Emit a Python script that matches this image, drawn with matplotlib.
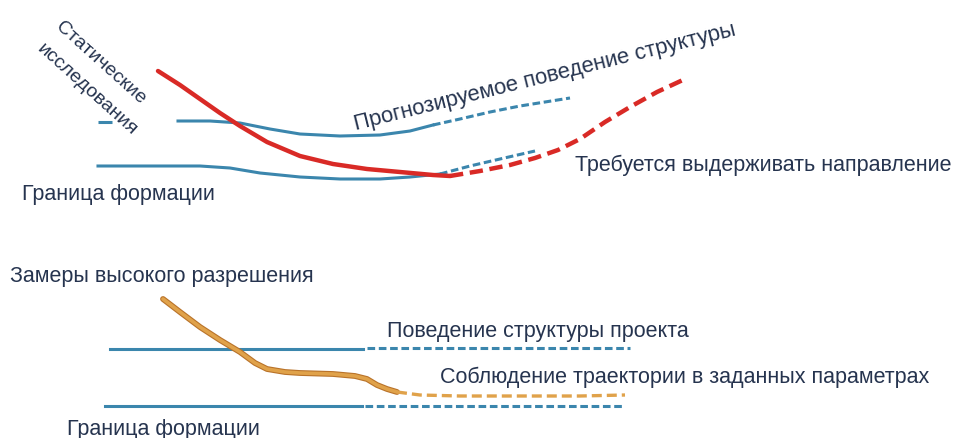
import matplotlib
matplotlib.use('Agg')
import matplotlib.pyplot as plt

plt.rcParams['font.family'] = ['Liberation Sans', 'DejaVu Sans']

# координаты снимаются с картинки (пиксели, y вниз)
# верхняя схема: статические исследования
stub_x = [98, 112]
stub_y = [123, 123]

top_upper_x = [178, 210, 240, 270, 300, 340, 380, 410, 433]
top_upper_y = [122, 122, 124, 130, 135, 137, 136, 132, 126]
top_upper_dash_x = [433, 460, 490, 520, 545, 570]
top_upper_dash_y = [126, 120, 113, 107, 103, 99]

top_lower_x = [98, 150, 200, 230, 260, 300, 340, 380, 410, 440]
top_lower_y = [167, 167, 167, 169, 174, 178, 180, 180, 178, 175]
top_lower_dash_x = [440, 470, 500, 535]
top_lower_dash_y = [175, 167, 160, 152]

red_x = [158, 180, 200, 220, 240, 267, 300, 333, 367, 400, 433, 450]
red_y = [72, 86, 100, 114, 127, 143, 157, 165, 170, 173, 176, 177]
red_dash_x = [450, 480, 510, 535, 558, 580, 605, 630, 657, 685]
red_dash_y = [177, 172, 166, 159, 151, 140, 123, 108, 93, 80]

# нижняя схема: замеры высокого разрешения
bot_upper_x = [110, 363]
bot_upper_y = [350, 350]
bot_upper_dash_x = [367, 630]
bot_upper_dash_y = [349, 349]

bot_lower_x = [105, 362]
bot_lower_y = [407, 407]
bot_lower_dash_x = [365, 625]
bot_lower_dash_y = [407, 407]

orange_x = [163, 180, 200, 220, 240, 255, 267, 285, 300, 333, 355, 367, 377, 387, 397]
orange_y = [300, 313, 328, 341, 353, 364, 370, 373, 374, 375, 377, 380, 386, 390, 393]
orange_dash_x = [397, 420, 460, 520, 580, 625]
orange_dash_y = [393, 396, 397, 397, 397, 396]

blue = '#3b86ad'
red = '#d92a26'
orange = '#e0a24a'
txt = '#26344f'

fig = plt.figure(figsize=(9.59, 4.39), dpi=100)
ax = fig.add_axes([0, 0, 1, 1])
ax.set_xlim(0, 959)
ax.set_ylim(439, 0)
ax.axis('off')

# верх
ax.plot(stub_x, stub_y, color=blue, lw=2.2, solid_capstyle='butt')
ax.plot(top_upper_x, top_upper_y, color=blue, lw=2.2)
ax.plot(top_upper_dash_x, top_upper_dash_y, color=blue, lw=2.2, ls=(0, (2.5, 1.2)))
ax.plot(top_lower_x, top_lower_y, color=blue, lw=2.2)
ax.plot(top_lower_dash_x, top_lower_dash_y, color=blue, lw=2.2, ls=(0, (2.5, 1.2)))
ax.plot(red_x, red_y, color=red, lw=3.2, solid_capstyle='round')
ax.plot(red_dash_x, red_dash_y, color=red, lw=3.2, ls=(0, (3, 1.5)))

# низ
ax.plot(bot_upper_x, bot_upper_y, color=blue, lw=2.2)
ax.plot(bot_upper_dash_x, bot_upper_dash_y, color=blue, lw=2.2, ls=(0, (2.5, 1.2)))
ax.plot(bot_lower_x, bot_lower_y, color=blue, lw=2.2)
ax.plot(bot_lower_dash_x, bot_lower_dash_y, color=blue, lw=2.2, ls=(0, (2.5, 1.2)))
ax.plot(orange_x, orange_y, color='#b9732a', lw=4.2, solid_capstyle='round')
ax.plot(orange_x, orange_y, color=orange, lw=2.6, solid_capstyle='round')
ax.plot(orange_dash_x, orange_dash_y, color=orange, lw=2.4, ls=(0, (3, 1.5)))

fs = 15.5
ax.text(55, 28, 'Статические', rotation=-42, rotation_mode='anchor',
        ha='left', va='baseline', fontsize=14, color=txt)
ax.text(36, 50, 'исследования', rotation=-42, rotation_mode='anchor',
        ha='left', va='baseline', fontsize=14, color=txt)
ax.text(356, 130, 'Прогнозируемое поведение структуры', rotation=14,
        rotation_mode='anchor', ha='left', va='baseline', fontsize=15.8, color=txt)
ax.text(575, 165, 'Требуется выдерживать направление', ha='left', va='center',
        fontsize=fs, color=txt)
ax.text(22, 195, 'Граница формации', ha='left', va='center', fontsize=fs, color=txt)

ax.text(10, 277, 'Замеры высокого разрешения', ha='left', va='center', fontsize=fs, color=txt)
ax.text(387, 332, 'Поведение структуры проекта', ha='left', va='center', fontsize=fs, color=txt)
ax.text(440, 377, 'Соблюдение траектории в заданных параметрах', ha='left', va='center',
        fontsize=fs, color=txt)
ax.text(67, 430, 'Граница формации', ha='left', va='center', fontsize=fs, color=txt)

fig.savefig('out.png', dpi=100)
